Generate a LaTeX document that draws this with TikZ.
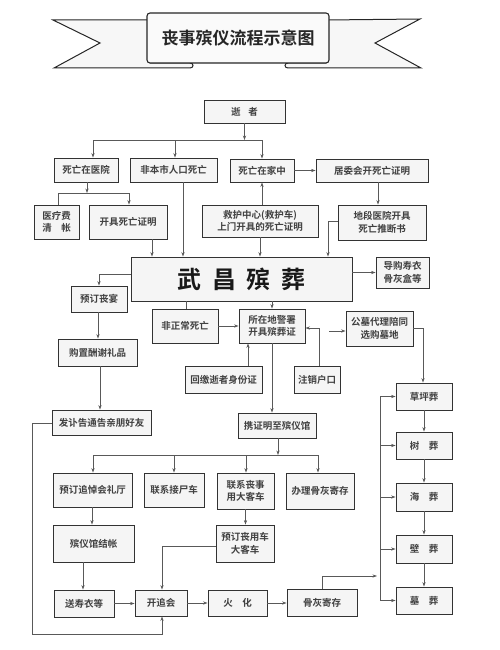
\documentclass[tikz,border=0pt]{standalone}
\usepackage{fontspec}
\setmainfont{Noto Sans CJK SC}[BoldFont={Noto Sans CJK SC Bold}]
\usetikzlibrary{arrows.meta}
\begin{document}
\begin{tikzpicture}[x=1pt,y=-1pt,
  box/.style={draw=black!80, fill=black!4, line width=0.9pt, inner sep=1pt, align=center,
    font=\bfseries\fontsize{9.5}{12.5}\selectfont, text=black!75},
  wh/.style 2 args={minimum width=#1pt, minimum height=#2pt},
  ln/.style={draw=black!65, line width=0.6pt},
  rib/.style={draw=black!85, fill=black!3, line width=1pt},
  arr/.style={ln, -{Stealth[length=4.5pt,width=3.2pt]}}]

\useasboundingbox (0,0) rectangle (500,650);

% ---- banner coordinates ----
\coordinate (rA) at (150,20);
\coordinate (rB) at (53,20);
\coordinate (rC) at (100,43);
\coordinate (rD) at (54,68);
\coordinate (rE) at (190,68);
\coordinate (rc1) at (194,68);
\coordinate (rc2) at (194,63);
\coordinate (rF) at (190,63);
\coordinate (rG) at (150,63);
\coordinate (sA) at (326,20);
\coordinate (sB) at (420,19);
\coordinate (sC) at (375,43);
\coordinate (sD) at (421,68);
\coordinate (sE) at (288,68);
\coordinate (sc1) at (284,68);
\coordinate (sc2) at (284,63);
\coordinate (sF) at (288,63);
\coordinate (sG) at (326,63);

\filldraw[rib] (rA) -- (rB) -- (rC) -- (rD) -- (rE) .. controls (rc1) and (rc2) .. (rF) -- (rG) -- cycle;
\filldraw[rib] (sA) -- (sB) -- (sC) -- (sD) -- (sE) .. controls (sc1) and (sc2) .. (sF) -- (sG) -- cycle;
\node[draw=black!85, fill=black!2, line width=1.1pt, rounded corners=3pt, wh={182}{50},
  font=\bfseries\fontsize{17}{20}\selectfont, text=black!85] (title) at (238,38) {丧事殡仪流程示意图};

% ---- nodes ----
\node[box, wh={81}{23}] (dead) at (244.5,111.5) {逝\hspace{0.8em}者};
\node[box, wh={64}{24}] (hosp) at (86,170) {死亡在医院};
\node[box, wh={87}{24}] (nonlocal) at (173.5,170) {非本市人口死亡};
\node[box, wh={64}{23}] (home) at (262,170.5) {死亡在家中};
\node[box, wh={112}{23}] (jwh) at (372,170.5) {居委会开死亡证明};
\node[box, wh={45}{34}] (yl) at (56.5,222) {医疗费\\清\hspace{1em}帐};
\node[box, wh={78}{34}] (kj) at (128,222) {开具死亡证明};
\node[box, wh={116}{32}] (jh) at (260,221) {救护中心(救护车)\\上门开具的死亡证明};
\node[box, wh={88}{35}] (dd) at (382,222.5) {地段医院开具\\死亡推断书};
\node[box, wh={221}{44}, font=\bfseries\fontsize{24}{26}\selectfont, text=black!90] (wc) at (241.5,279)
  {武\hspace{0.45em}昌\hspace{0.45em}殡\hspace{0.45em}葬};
\node[box, wh={53}{31}] (dg) at (402.5,272.5) {导购寿衣\\骨灰盒等};
\node[box, wh={56}{26}] (ydsy) at (99,299) {预订丧宴};
\node[box, wh={79}{27}] (gz) at (97.5,352.5) {购置酬谢礼品};
\node[box, wh={99}{25}] (fb) at (101.5,422.5) {发讣告通告亲朋好友};
\node[box, wh={66}{34}] (fz) at (185,326) {非正常死亡};
\node[box, wh={66}{34}] (js) at (272,326) {所在地警署\\开具殡葬证};
\node[box, wh={77}{27}] (hj) at (223.5,379.5) {回缴逝者身份证};
\node[box, wh={46}{27}] (zx) at (317,379.5) {注销户口};
\node[box, wh={67}{35}] (gm) at (379.5,328.5) {公墓代理陪同\\选购墓地};
\node[box, wh={78}{25}] (xz) at (277,425.5) {携证明至殡仪馆};
\node[box, wh={79}{34}] (zd) at (92.5,490) {预订追悼会礼厅};
\node[box, wh={60}{34}] (lj) at (174,490) {联系接尸车};
\node[box, wh={57}{36}] (lx) at (245.5,491) {联系丧事\\用大客车};
\node[box, wh={68}{36}] (bl) at (320,491) {办理骨灰寄存};
\node[box, wh={81}{37}] (jz) at (93.5,543.5) {殡仪馆结帐};
\node[box, wh={58}{37}] (yd) at (245,543.5) {预订丧用车\\大客车};
\node[box, wh={60}{27}] (ss) at (84,603.5) {送寿衣等};
\node[box, wh={52}{26}] (kz) at (161,603) {开追会};
\node[box, wh={59}{26}] (hh) at (237.5,603) {火\hspace{1em}化};
\node[box, wh={70}{27}] (gh) at (322,602.5) {骨灰寄存};
\node[box, wh={56}{27}] (cp) at (424,396.5) {草坪葬};
\node[box, wh={56}{27}] (sz) at (424,445.5) {树\hspace{1em}葬};
\node[box, wh={56}{28}] (hz) at (424,497) {海\hspace{1em}葬};
\node[box, wh={56}{28}] (bz) at (424,549) {壁\hspace{1em}葬};
\node[box, wh={56}{27}] (mz) at (424,600.5) {墓\hspace{1em}葬};

% ---- junction coordinates ----
\coordinate (t1) at (244.5,140);
\coordinate (t1a) at (93,140);
\coordinate (t1b) at (175,140);
\coordinate (t1c) at (262,140);
\coordinate (h1) at (87,193);
\coordinate (h1a) at (58,193);
\coordinate (h1b) at (129,193);
\coordinate (d1) at (328,221);
\coordinate (w1) at (99,274);
\coordinate (f1) at (32,423);
\coordinate (f2) at (32,634);
\coordinate (f3) at (162,634);
\coordinate (z1) at (319,328);
\coordinate (g0) at (329,331);
\coordinate (g1) at (423,328);
\coordinate (x1) at (278,455);
\coordinate (x1a) at (93,455);
\coordinate (x1b) at (174,455);
\coordinate (x1c) at (246,455);
\coordinate (x1d) at (318,455);
\coordinate (y1) at (162,546);
\coordinate (k1) at (322,576);
\coordinate (k2) at (377,576);
\coordinate (v1) at (380,396.5);
\coordinate (v2) at (380,600.5);

% ---- connectors ----
\draw[arr] (dead.south) -- (t1);
\draw[ln] (t1a) -- (t1c);
\draw[arr] (t1a) -- (t1a |- hosp.north);
\draw[arr] (t1b) -- (t1b |- nonlocal.north);
\draw[arr] (t1c) -- (t1c |- home.north);

\draw[arr] (h1 |- hosp.south) -- (h1);
\draw[ln] (h1a) -- (h1b);
\draw[ln] (h1a) -- (h1a |- yl.north);
\draw[arr] (h1b) -- (h1b |- kj.north);

\draw[arr] (home.east) -- (home.east -| jwh.west);
\draw[arr] (jh.north -| home.south) -- (home.south);
\draw[arr] (378,0 |- jwh.south) -- (378,0 |- dd.north);
\draw[arr] (dd.west |- d1) -- (d1) -- (d1 |- wc.north);

\draw[arr] (152,0 |- kj.south) -- (152,0 |- wc.north);
\draw[arr] (183,0 |- nonlocal.south) -- (183,0 |- wc.north);
\draw[arr] (jh.south) -- (jh.south |- wc.north);
\draw[arr] (wc.east |- dg.west) -- (dg.west);

\draw[arr] (wc.west |- w1) -- (w1) -- (w1 |- ydsy.north);
\draw[arr] (98,0 |- ydsy.south) -- (98,0 |- gz.north);
\draw[arr] (100,0 |- gz.south) -- (100,0 |- fb.north);
\draw[arr] (fb.west |- f1) -- (f1) -- (f2) -- (f3) -- (f3 |- kz.south);

\draw[ln] (186,0 |- wc.south) -- (186,0 |- fz.north);
\draw[arr] (js.north |- wc.south) -- (js.north);
\draw[arr] (fz.east) -- (js.west);
\draw[arr] (248,0 |- hj.north) -- (248,0 |- js.south);
\draw[arr] (z1 |- zx.north) -- (z1) -- (z1 -| js.east);
\draw[arr] (g0) -- (g0 -| gm.west);
\draw[arr] (gm.east |- g1) -- (g1) -- (g1 |- cp.north);

\draw[arr] (js.south) -- (js.south |- xz.north);
\draw[arr] (xz.south -| x1) -- (x1);
\draw[ln] (x1a) -- (x1d);
\draw[arr] (x1a) -- (x1a |- zd.north);
\draw[arr] (x1b) -- (x1b |- lj.north);
\draw[arr] (x1c) -- (x1c |- lx.north);
\draw[arr] (x1d) -- (x1d |- bl.north);

\draw[arr] (lx.south) -- (lx.south |- yd.north);
\draw[arr] (yd.west |- y1) -- (y1) -- (y1 |- kz.north);

\draw[arr] (92,0 |- zd.south) -- (92,0 |- jz.north);
\draw[arr] (83,0 |- jz.south) -- (83,0 |- ss.north);
\draw[arr] (ss.east) -- (ss.east -| kz.west);
\draw[arr] (kz.east) -- (hh.west);
\draw[arr] (hh.east) -- (hh.east -| gh.west);
\draw[arr] (gh.north) -- (k1) -- (k2);

\draw[ln] (v1) -- (v2);
\draw[arr] (v1) -- (cp.west);
\draw[arr] (v1 |- sz.west) -- (sz.west);
\draw[arr] (v1 |- hz.west) -- (hz.west);
\draw[arr] (v1 |- bz.west) -- (bz.west);
\draw[arr] (v1 |- mz.west) -- (mz.west);

\draw[arr] (cp.south) -- (sz.north);
\draw[arr] (sz.south) -- (hz.north);
\draw[arr] (hz.south) -- (bz.north);
\draw[arr] (bz.south) -- (mz.north);
\end{tikzpicture}
\end{document}
